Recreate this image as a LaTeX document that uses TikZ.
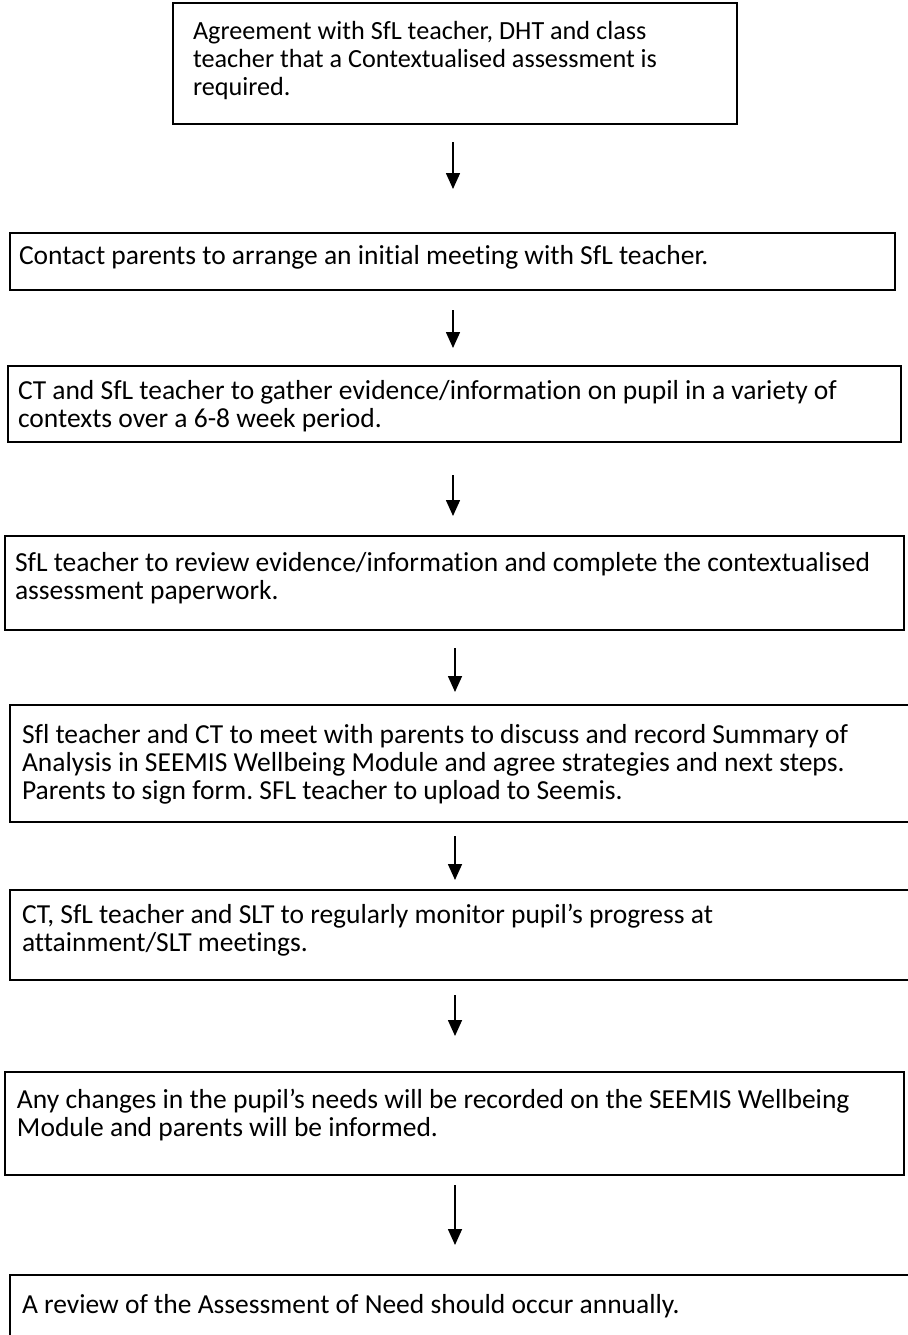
\documentclass[tikz,border=0pt]{standalone}
\usepackage{fontspec}
\setmainfont{Carlito}[Ligatures={NoCommon}]
\usetikzlibrary{arrows.meta}
\frenchspacing
\newcommand{\bxt}[4]{\parbox[c][#1][t]{#2}{\vspace*{#3}\raggedright\rule{0pt}{20pt}#4\par}}
\tikzset{
  stepbox/.style={draw, line width=1.6pt, anchor=north west, inner sep=0pt, outer sep=0pt, align=left,
    font=\fontsize{27.5pt}{28pt}\selectfont},
  smallbox/.style={stepbox, font=\fontsize{26.2pt}{28pt}\selectfont},
  arr/.style={line width=1.6pt, -{Triangle[width=14pt,length=16pt]}},
}
\begin{document}
\begin{tikzpicture}[x=1pt,y=-1pt]
\useasboundingbox (0,0) rectangle (907,1335);
\node[smallbox] (b1) at (173,3) {\bxt{121pt}{564pt}{17pt}{\hspace*{20pt}Agreement with SfL teacher, DHT and class\\\hspace*{20pt}teacher that a Contextualised assessment is\\\hspace*{20pt}required.}};
\node[stepbox] (b2) at (10,233) {\bxt{57pt}{885pt}{11pt}{\hspace*{9pt}Contact parents to arrange an initial meeting with SfL teacher.}};
\node[stepbox] (b3) at (8,366) {\bxt{76pt}{893pt}{13pt}{\hspace*{10pt}CT and SfL teacher to gather evidence/information on pupil in a variety of\\\hspace*{10pt}contexts over a 6-8 week period.}};
\node[stepbox] (b4) at (5,536) {\bxt{94pt}{899pt}{15pt}{\hspace*{10pt}SfL teacher to review evidence/information and complete the contextualised\\\hspace*{10pt}assessment paperwork.}};
\node[stepbox] (b5) at (10,705) {\bxt{117pt}{910pt}{18pt}{\hspace*{12pt}Sfl teacher and CT to meet with parents to discuss and record Summary of\\\hspace*{12pt}Analysis in SEEMIS Wellbeing Module and agree strategies and next steps.\\\hspace*{12pt}Parents to sign form. SFL teacher to upload to Seemis.}};
\node[stepbox] (b6) at (10,890) {\bxt{90pt}{910pt}{13pt}{\hspace*{12pt}CT, SfL teacher and SLT to regularly monitor pupil’s progress at\\\hspace*{12pt}attainment/SLT meetings.}};
\node[stepbox] (b7) at (5,1072) {\bxt{103pt}{899pt}{16pt}{\hspace*{12pt}Any changes in the pupil’s needs will be recorded on the SEEMIS Wellbeing\\\hspace*{12pt}Module and parents will be informed.}};
\node[stepbox] (b8) at (10,1275) {\bxt{120pt}{910pt}{18pt}{\hspace*{12pt}A review of the Assessment of Need should occur annually.}};
\coordinate (ax) at (453,0);
\coordinate (bx) at (455,0);
\draw[arr, shorten <=18pt, shorten >=44pt] (b1.south -| ax) -- (b2.north -| ax);
\draw[arr, shorten <=20pt, shorten >=18pt] (b2.south -| ax) -- (b3.north -| ax);
\draw[arr, shorten <=33pt, shorten >=20pt] (b3.south -| ax) -- (b4.north -| ax);
\draw[arr, shorten <=18pt, shorten >=13pt] (b4.south -| bx) -- (b5.north -| bx);
\draw[arr, shorten <=14pt, shorten >=10pt] (b5.south -| bx) -- (b6.north -| bx);
\draw[arr, shorten <=15pt, shorten >=36pt] (b6.south -| bx) -- (b7.north -| bx);
\draw[arr, shorten <=10pt, shorten >=30pt] (b7.south -| bx) -- (b8.north -| bx);
\end{tikzpicture}
\end{document}
